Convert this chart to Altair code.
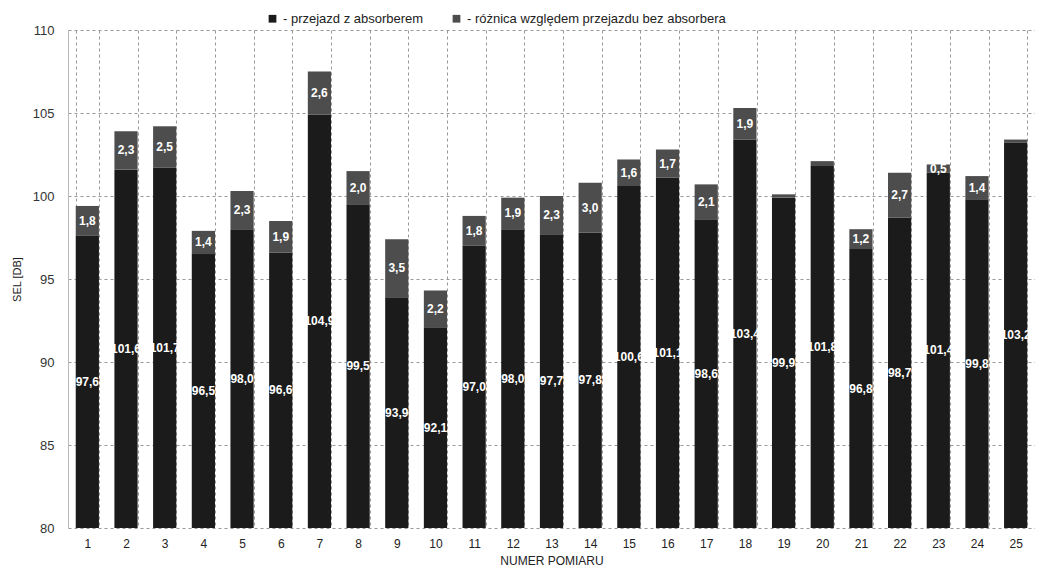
import altair as alt
import pandas as pd

pomiary = [str(i) for i in range(1, 26)]
z_absorberem = [97.6, 101.6, 101.7, 96.5, 98.0, 96.6, 104.9, 99.5, 93.9, 92.1,
                97.0, 98.0, 97.7, 97.8, 100.6, 101.1, 98.6, 103.4, 99.9, 101.8,
                96.8, 98.7, 101.4, 99.8, 103.2]
roznica = [1.8, 2.3, 2.5, 1.4, 2.3, 1.9, 2.6, 2.0, 3.5, 2.2,
           1.8, 1.9, 2.3, 3.0, 1.6, 1.7, 2.1, 1.9, 0.2, 0.3,
           1.2, 2.7, 0.5, 1.4, 0.2]
y_ticks = [80, 85, 90, 95, 100, 105, 110]

S1 = "- przejazd z absorberem"
S2 = "- różnica względem przejazdu bez absorbera"

def fmt(v):
    return f"{v:.1f}".replace(".", ",")

rows = []
for p, v, d in zip(pomiary, z_absorberem, roznica):
    rows.append({"pomiar": p, "seria": S1, "y0": 80, "y1": v,
                 "mid": (80 + v) / 2, "label": fmt(v)})
    rows.append({"pomiar": p, "seria": S2, "y0": v, "y1": v + d,
                 "mid": v + d / 2, "label": fmt(d) if d >= 0.4 else ""})
df = pd.DataFrame(rows)

x_enc = alt.X("pomiar:N", sort=pomiary, title="NUMER POMIARU",
              scale=alt.Scale(paddingInner=0.4, paddingOuter=0.2),
              axis=alt.Axis(labelAngle=0, grid=True, tickBand="extent",
                            gridDash=[3, 3], gridColor="#999", ticks=False,
                            domain=False, labelFontSize=12, labelColor="#222",
                            labelPadding=10, titleFontSize=12, titleFontWeight="normal",
                            titleColor="#222", titlePadding=6))

bars = alt.Chart(df).mark_bar().encode(
    x=x_enc,
    y=alt.Y("y0:Q", title="SEL [DB]",
            scale=alt.Scale(domain=[80, 110], nice=False),
            axis=alt.Axis(values=y_ticks, grid=True, gridDash=[3, 3], gridColor="#999",
                          ticks=False, domain=True, domainColor="#bbb",
                          labelFontSize=13, labelColor="#333", labelPadding=14,
                          titleFontSize=11, titleFontWeight="normal", titleColor="#222",
                          titlePadding=10)),
    y2="y1:Q",
    color=alt.Color("seria:N", scale=alt.Scale(domain=[S1, S2], range=["#1b1b1b", "#4d4d4d"]),
                    legend=alt.Legend(title=None, orient="none", direction="horizontal",
                                      legendX=198, legendY=-18, symbolType="square",
                                      symbolSize=60, labelFontSize=13, labelColor="#222",
                                      labelLimit=0, columnPadding=26, symbolOffset=0)),
)

labels = alt.Chart(df).mark_text(color="white", fontWeight="bold", fontSize=12,
                                 font="Liberation Sans").encode(
    x=alt.X("pomiar:N", sort=pomiary),
    y=alt.Y("mid:Q"),
    text="label:N",
)

chart = alt.layer(bars, labels).properties(
    width=967, height=498,
    autosize=alt.AutoSizeParams(type="none"),
    padding={"left": 60, "top": 22, "right": 0, "bottom": 44},
).configure(font="Liberation Sans").configure_view(stroke=None)

chart.save("out.html", embed_options={"renderer": "svg", "actions": False})
